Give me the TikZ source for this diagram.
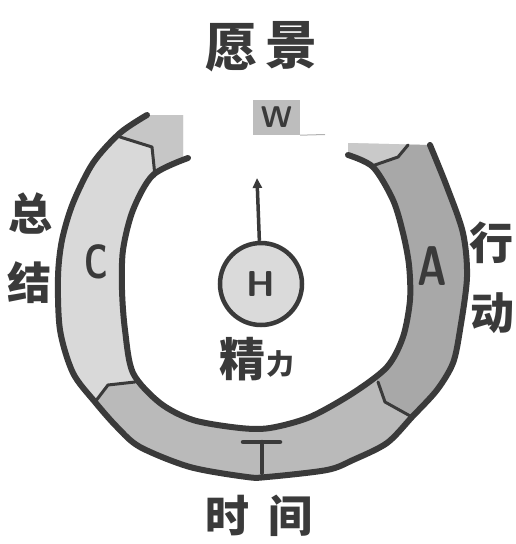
\documentclass[tikz,border=0pt]{standalone}
\usepackage{fontspec}
\setmainfont{Liberation Sans}
\newfontfamily\cjk{Noto Sans CJK SC}
\usetikzlibrary{arrows.meta}
\definecolor{ink}{HTML}{3A3A3A}
\definecolor{leftc}{HTML}{D9D9D9}
\definecolor{tlc}{HTML}{C6C6C6}
\definecolor{botc}{HTML}{BABABA}
\definecolor{rightc}{HTML}{A8A8A8}
\definecolor{trc}{HTML}{C9C9C9}
\definecolor{hc}{HTML}{DADADA}
\definecolor{wc}{HTML}{BDBDBD}
\newcommand\myfs[1]{\fontsize{#1}{#1}\selectfont}
\newcommand\ringpath{plot[smooth] coordinates {(147,115) (120,133) (93,163) (73,203) (62,240) (58,277) (60,330) (73,373) (95,402) (117,427) (140,447) (190,467) (247,477) (267,477) (327,470) (353,460) (387,443) (412,417) (437,390) (453,363) (460,330) (467,277) (463,233) (447,187) (430,145)} -- (348,143) -- plot[smooth] coordinates {(348,155) (373,167) (393,200) (403,233) (409,265) (410,300) (403,337) (387,367) (353,393) (310,417) (270,428) (240,428) (193,420) (160,403) (133,373) (125,330) (122,290) (123,250) (133,210) (153,175) (188,158)} -- (183,160) -- (183,115) -- cycle}
\tikzset{
  outline/.style={draw=ink, line width=6pt, line cap=round, line join=round},
  divline/.style={draw=ink, line width=3pt, line cap=round, line join=round},
  cjklabel/.style={text=ink, font=\cjk\bfseries, inner sep=0pt},
  latinlabel/.style={text=ink, font=\sffamily\bfseries, inner sep=0pt},
}
\begin{document}
\begin{tikzpicture}[x=1pt,y=-1pt]
\useasboundingbox (0,0) rectangle (515,544);
% ring fill
\fill[leftc] \ringpath;
\begin{scope}
  \clip \ringpath;
  \fill[tlc] (88,127) -- (152,147) -- (155,185) -- (200,185) -- (200,90) -- (88,90) -- cycle;
  \fill[botc] (82,419) -- (108,385) -- (160,379) -- (371,362) -- (378,382) -- (385,402) -- (439,432) -- (439,520) -- (82,520) -- cycle;
  \fill[rightc] (439,432) -- (385,402) -- (378,382) -- (371,362) -- (342,173) -- (398,157) -- (408,145) -- (418,130) -- (520,130) -- (520,432) -- cycle;
  \fill[trc] (342,173) -- (398,157) -- (408,145) -- (418,130) -- (300,100) -- (300,180) -- cycle;
\end{scope}
% dividers
\draw[divline] (120,137) -- (152,147) -- (155,176);
\draw[divline] (408,145) -- (398,157) -- (372,166);
\draw[divline] (95,402) -- (108,385) -- (135,382);
\draw[divline] (378,382) -- (385,402) -- (412,417);
% outlines
\draw[outline] plot[smooth] coordinates {(147,115) (120,133) (93,163) (73,203) (62,240) (58,277) (60,330) (73,373) (95,402) (117,427) (140,447) (190,467) (247,477) (267,477) (327,470) (353,460) (387,443) (412,417) (437,390) (453,363) (460,330) (467,277) (463,233) (447,187) (430,145)};
\draw[outline] plot[smooth] coordinates {(348,155) (373,167) (393,200) (403,233) (409,265) (410,300) (403,337) (387,367) (353,393) (310,417) (270,428) (240,428) (193,420) (160,403) (133,373) (125,330) (122,290) (123,250) (133,210) (153,175) (188,158)};
% T mark
\coordinate (tl) at (243,442);
\coordinate (tr) at (280,442);
\coordinate (tt) at (262,442);
\coordinate (tb) at (262,473);
\draw[ink, line width=4.5pt, line cap=round] (tl) -- (tr);
\draw[ink, line width=4.5pt, line cap=round] (tt) -- (tb);
% H circle and arrow
\node[circle, draw=ink, line width=4.5pt, fill=hc, minimum size=82pt, inner sep=0pt, latinlabel] (H) at (261,284) {\myfs{36}H};
\coordinate (tip) at (257,178);
\draw[ink, line width=3.5pt, -{Triangle[length=10pt,width=9pt]}] (H) -- (tip);
% W box
\node[fill=wc, minimum width=47pt, minimum height=35pt, inner sep=0pt, latinlabel] (W) at (276.5,117.5) {\myfs{30}W};
\coordinate (wend) at (325,134.5);
\draw[gray!60, line width=1pt] (W.south east) -- (wend);
% letters on ring
\node[latinlabel, xscale=0.7] (C) at (96,262) {\myfs{48}C};
\node[latinlabel, xscale=0.72] (A) at (432,266) {\myfs{56}A};
% Chinese labels
\node[cjklabel] (yuan) at (231,48) {\myfs{52}愿};
\node[cjklabel] (jing) at (291,45) {\myfs{52}景};
\node[cjklabel] (zong) at (31,213) {\myfs{44}总};
\node[cjklabel] (jie) at (30,283) {\myfs{44}结};
\node[cjklabel] (xing) at (491,243) {\myfs{44}行};
\node[cjklabel] (dong) at (492,313) {\myfs{44}动};
\node[cjklabel] (jingl) at (242,359) {\myfs{46}精};
\node[cjklabel] (li) at (280,364) {\myfs{28}力};
\node[cjklabel] (shi) at (227,516) {\myfs{44}时};
\node[cjklabel] (jian) at (290,516) {\myfs{44}间};
\end{tikzpicture}
\end{document}
